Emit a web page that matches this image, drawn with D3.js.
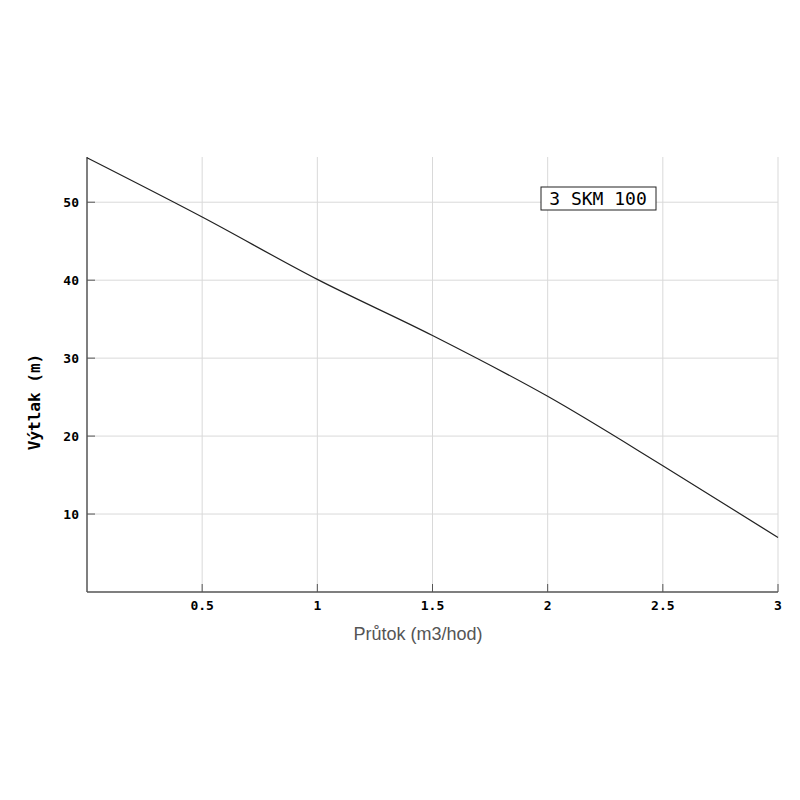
<!DOCTYPE html>
<html><head><meta charset="utf-8">
<script src="https://cdn.jsdelivr.net/npm/d3@7"></script>
<style>body{margin:0;background:#fff}</style>
</head><body><svg id="chart" width="800" height="800"></svg>
<script>
var flow = [0, 0.5, 1, 1.5, 2, 2.5, 3];
var head = [55.7, 48.1, 40.1, 32.9, 25.1, 16.2, 7.0];
var xTicks = [0.5, 1, 1.5, 2, 2.5, 3];
var yTicks = [10, 20, 30, 40, 50];
var label = "3 SKM 100";

var svg = d3.select("#chart");
var x = d3.scaleLinear().domain([0, 3]).range([87, 778]);
var y = d3.scaleLinear().domain([0, 55.8]).range([592, 157]);

// grid
svg.selectAll(".gx").data(xTicks).enter().append("line")
  .attr("x1", d => x(d)).attr("x2", d => x(d)).attr("y1", 157).attr("y2", 592)
  .attr("stroke", "#d9d9d9");
svg.selectAll(".gy").data(yTicks).enter().append("line")
  .attr("x1", 87).attr("x2", 778).attr("y1", d => y(d)).attr("y2", d => y(d))
  .attr("stroke", "#d9d9d9");

// axes
svg.append("line").attr("x1", 87).attr("x2", 87).attr("y1", 157).attr("y2", 592).attr("stroke", "#555").attr("stroke-width", 1.5);
svg.append("line").attr("x1", 87).attr("x2", 778).attr("y1", 592).attr("y2", 592).attr("stroke", "#555").attr("stroke-width", 1.5);
svg.selectAll(".ty").data(yTicks).enter().append("line")
  .attr("x1", 87).attr("x2", 95).attr("y1", d => y(d)).attr("y2", d => y(d)).attr("stroke", "#555");
svg.selectAll(".tx").data(xTicks).enter().append("line")
  .attr("x1", d => x(d)).attr("x2", d => x(d)).attr("y1", 584).attr("y2", 592).attr("stroke", "#555");

svg.selectAll(".ly").data(yTicks).enter().append("text")
  .attr("x", 79).attr("y", d => y(d) + 5).attr("text-anchor", "end")
  .attr("font-family", "DejaVu Sans Mono").attr("font-weight", "bold").attr("font-size", 13)
  .text(d => d);
svg.selectAll(".lx").data(xTicks).enter().append("text")
  .attr("x", d => x(d)).attr("y", 610).attr("text-anchor", "middle")
  .attr("font-family", "DejaVu Sans Mono").attr("font-weight", "bold").attr("font-size", 13)
  .text(d => d);

svg.append("text").attr("x", 418).attr("y", 640).attr("text-anchor", "middle")
  .attr("font-family", "Liberation Sans").attr("font-size", 18).attr("fill", "#555")
  .text("Průtok (m3/hod)");
svg.append("text").attr("transform", "translate(40,402) rotate(-90)").attr("text-anchor", "middle")
  .attr("font-family", "DejaVu Sans Mono").attr("font-weight", "bold").attr("font-size", 16)
  .text("Výtlak (m)");

// curve
svg.append("path").datum(d3.zip(flow, head))
  .attr("d", d3.line().x(d => x(d[0])).y(d => y(d[1])).curve(d3.curveMonotoneX))
  .attr("fill", "none").attr("stroke", "#222").attr("stroke-width", 1.2);

// label box
svg.append("rect").attr("x", 541).attr("y", 187).attr("width", 115).attr("height", 23)
  .attr("fill", "#fff").attr("stroke", "#222");
svg.append("text").attr("x", 598).attr("y", 205).attr("text-anchor", "middle")
  .attr("font-family", "DejaVu Sans Mono").attr("font-size", 18).text(label);
</script></body></html>
